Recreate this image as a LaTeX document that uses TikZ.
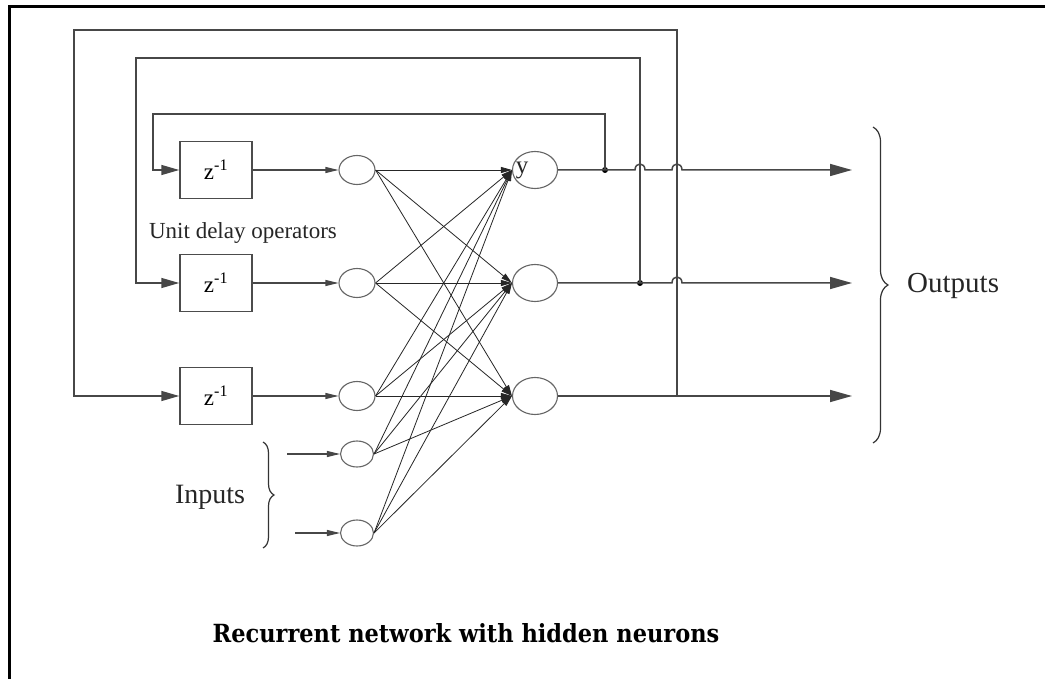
\documentclass[tikz,border=0pt]{standalone}
\usepackage{fontspec}
\setmainfont{Liberation Serif}
\newfontfamily\titlefont{DejaVu Serif}
\usetikzlibrary{arrows.meta,decorations.pathreplacing,shapes.geometric,calc}

\begin{document}
\begin{tikzpicture}[x=1pt,y=-1pt,
  wire/.style={draw=black!72,line width=1.5pt},
  link/.style={draw=black!85,line width=0.8pt,-{Triangle[length=11pt,width=6pt]}},
  feedin/.style={wire,-{Triangle[length=18pt,width=10pt]}},
  boxout/.style={wire,line width=1.1pt,-{Triangle[length=13pt,width=6pt]}},
  outarrow/.style={wire,-{Triangle[length=22pt,width=12pt]}},
  neuron/.style={ellipse,draw=black!60,line width=1.1pt,minimum width=36pt,minimum height=29pt,inner sep=0pt},
  outneuron/.style={neuron,minimum width=45pt,minimum height=37pt},
  delaybox/.style={rectangle,draw=black!70,line width=1.5pt,minimum width=72pt,minimum height=57pt,
    font=\fontsize{23}{23}\selectfont},
  junction/.style={circle,fill=black,inner sep=0pt,minimum size=6pt},
  lbl/.style={inner sep=0pt,text=black!85},
  brace/.style={draw=black!80,line width=1.2pt,decorate}
]
\useasboundingbox (0,0) rectangle (1045,679);
\fill[white] (0,0) rectangle (1045,679);

% page frame
\draw[black,line width=3pt] (9,679) -- (9,7) -- (1045,7);

% unit delay operators
\node[delaybox] (d1) at (216,170) {z\textsuperscript{-1}};
\node[delaybox] (d2) at (216,283) {z\textsuperscript{-1}};
\node[delaybox] (d3) at (216,396) {z\textsuperscript{-1}};
\node[lbl,font=\fontsize{23}{23}\selectfont] (udo) at (243,233) {Unit delay operators};

% hidden and input neurons
\node[neuron] (h1) at (357,170) {};
\node[neuron] (h2) at (357,283) {};
\node[neuron] (h3) at (357,396) {};
\node[neuron,minimum width=33pt,minimum height=26pt] (i1) at (357,454) {};
\node[neuron,minimum width=33pt,minimum height=26pt] (i2) at (357,533) {};

% output neurons
\node[outneuron] (o1) at (535,170) {};
\node[outneuron] (o2) at (535,283) {};
\node[outneuron] (o3) at (535,396) {};
\node[lbl,font=\fontsize{25}{25}\selectfont] (ylbl) at (522,170) {y};

% junctions and output ends
\node[junction] (j1) at (605,170) {};
\node[junction] (j2) at (640,283) {};
\coordinate (j3) at (677,396);
\coordinate (t1) at (852,170);
\coordinate (t2) at (852,283);
\coordinate (t3) at (852,396);

% input feeds
\coordinate (s1) at (287,454);
\coordinate (s2) at (295,533);
\draw[boxout] (s1) -- (i1.west);
\draw[boxout] (s2) -- (i2.west);

% delay boxes to hidden neurons
\draw[boxout] (d1.east) -- (h1.west);
\draw[boxout] (d2.east) -- (h2.west);
\draw[boxout] (d3.east) -- (h3.west);

% full connections to the output layer
\foreach \s in {h1,h2,h3,i1,i2}
  \foreach \t in {o1,o2,o3}
    \draw[link] (\s.east) -- (\t.west);

% output lines, hopping over the feedback verticals
\draw[outarrow] (o1.east) -- (j1.center) -- (635,170)
  .. controls (635,162) and (645,162) .. (645,170) -- (672,170)
  .. controls (672,162) and (682,162) .. (682,170) -- (t1);
\draw[outarrow] (o2.east) -- (j2.center) -- (672,283)
  .. controls (672,275) and (682,275) .. (682,283) -- (t2);
\draw[outarrow] (o3.east) -- (j3) -- (t3);

% feedback loops into the delay operators
\draw[feedin] (j1.center) -- (605,114) -- (153,114) -- (153,170) -- (d1.west);
\draw[feedin] (j2.center) -- (640,58) -- (136,58) -- (136,283) -- (d2.west);
\draw[feedin] (j3) -- (677,30) -- (74,30) -- (74,396) -- (d3.west);

% braces and their labels
\draw[brace,decoration={brace,amplitude=11pt}] (263,442) -- (263,548);
\node[lbl,font=\fontsize{28}{28}\selectfont] (inl) at (210,497) {Inputs};
\draw[brace,decoration={brace,amplitude=15pt}] (873,127) -- (873,443);
\node[lbl,font=\fontsize{29}{29}\selectfont,anchor=west] (outl) at (907,286) {Outputs};

% caption
\node[lbl,text=black,xscale=0.9,transform shape,font=\titlefont\bfseries\fontsize{25}{25}\selectfont] (title) at (466,633)
  {Recurrent network with hidden neurons};
\end{tikzpicture}
\end{document}
